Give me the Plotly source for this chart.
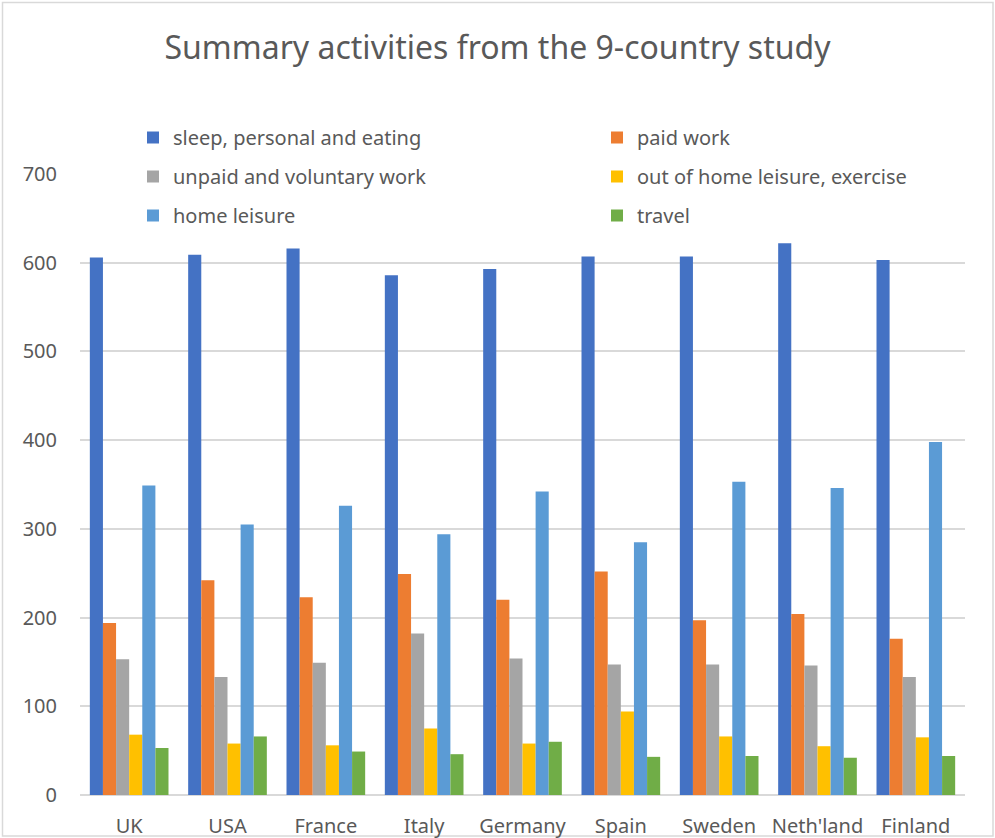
import plotly.graph_objects as go

countries = ["UK", "USA", "France", "Italy", "Germany", "Spain", "Sweden", "Neth'land", "Finland"]
series_names = ["sleep, personal and eating", "paid work", "unpaid and voluntary work",
                "out of home leisure, exercise", "home leisure", "travel"]
sleep = [606, 609, 616, 586, 593, 607, 607, 622, 603]
paid_work = [194, 242, 223, 249, 220, 252, 197, 204, 176]
unpaid_work = [153, 133, 149, 182, 154, 147, 147, 146, 133]
out_leisure = [68, 58, 56, 75, 58, 94, 66, 55, 65]
home_leisure = [349, 305, 326, 294, 342, 285, 353, 346, 398]
travel = [53, 66, 49, 46, 60, 43, 44, 42, 44]
colors = ["#4472C4", "#ED7D31", "#A5A5A5", "#FFC000", "#5B9BD5", "#70AD47"]

values = [sleep, paid_work, unpaid_work, out_leisure, home_leisure, travel]

fig = go.Figure()
for i, (name, vals, col) in enumerate(zip(series_names, values, colors)):
    fig.add_trace(go.Bar(x=countries, y=vals, name=name, legendgroup=name,
                         legend="legend" if i % 2 == 0 else "legend2",
                         marker=dict(color=col, line=dict(width=0))))

W, H = 995, 838
ml, mr, mt, mb = 80, 30, 174, 43
pw = W - ml - mr
ph = H - mt - mb
FONT = "Noto Sans"
GREY = "#595959"

def px_x(p):
    return (p - ml) / pw

def px_y(p):
    return (H - mb - p) / ph

legend_common = dict(orientation="v", xanchor="left", yanchor="top", tracegroupgap=10,
                     font=dict(size=20, color=GREY, family=FONT), bgcolor="rgba(0,0,0,0)",
                     borderwidth=0, itemclick=False)

fig.update_layout(
    width=W, height=H,
    margin=dict(l=ml, r=mr, t=mt, b=mb, pad=0, autoexpand=False),
    paper_bgcolor="white", plot_bgcolor="white",
    barmode="group", bargap=0.2, bargroupgap=0,
    font=dict(family=FONT, color=GREY, size=20),
    title=dict(text="Summary activities from the 9-country study", x=0.5, xanchor="center",
               y=1 - 48 / H, yanchor="middle", font=dict(size=32, color=GREY, family=FONT)),
    legend=dict(x=px_x(133), y=px_y(118), **legend_common),
    legend2=dict(x=px_x(597), y=px_y(118), **legend_common),
    showlegend=True,
)
fig.update_yaxes(range=[0, 700], dtick=100, showgrid=True, gridcolor="#D9D9D9", gridwidth=1.5,
                 zeroline=True, zerolinecolor="#D9D9D9", zerolinewidth=1.5, showline=False,
                 automargin=False, ticks="", ticklabelstandoff=22,
                 tickfont=dict(size=20, color=GREY, family=FONT))
fig.update_xaxes(showgrid=False, showline=False, ticks="", ticklabelstandoff=17, automargin=False,
                 tickfont=dict(size=20, color=GREY, family=FONT))

fig.add_shape(type="rect", xref="paper", yref="paper",
              x0=px_x(2.5), x1=px_x(993), y0=px_y(836), y1=px_y(2.5),
              line=dict(color="#D9D9D9", width=1.5), layer="below")

fig.write_html("out.html", config={"displayModeBar": False},
               post_script="document.body.style.margin='0';")
